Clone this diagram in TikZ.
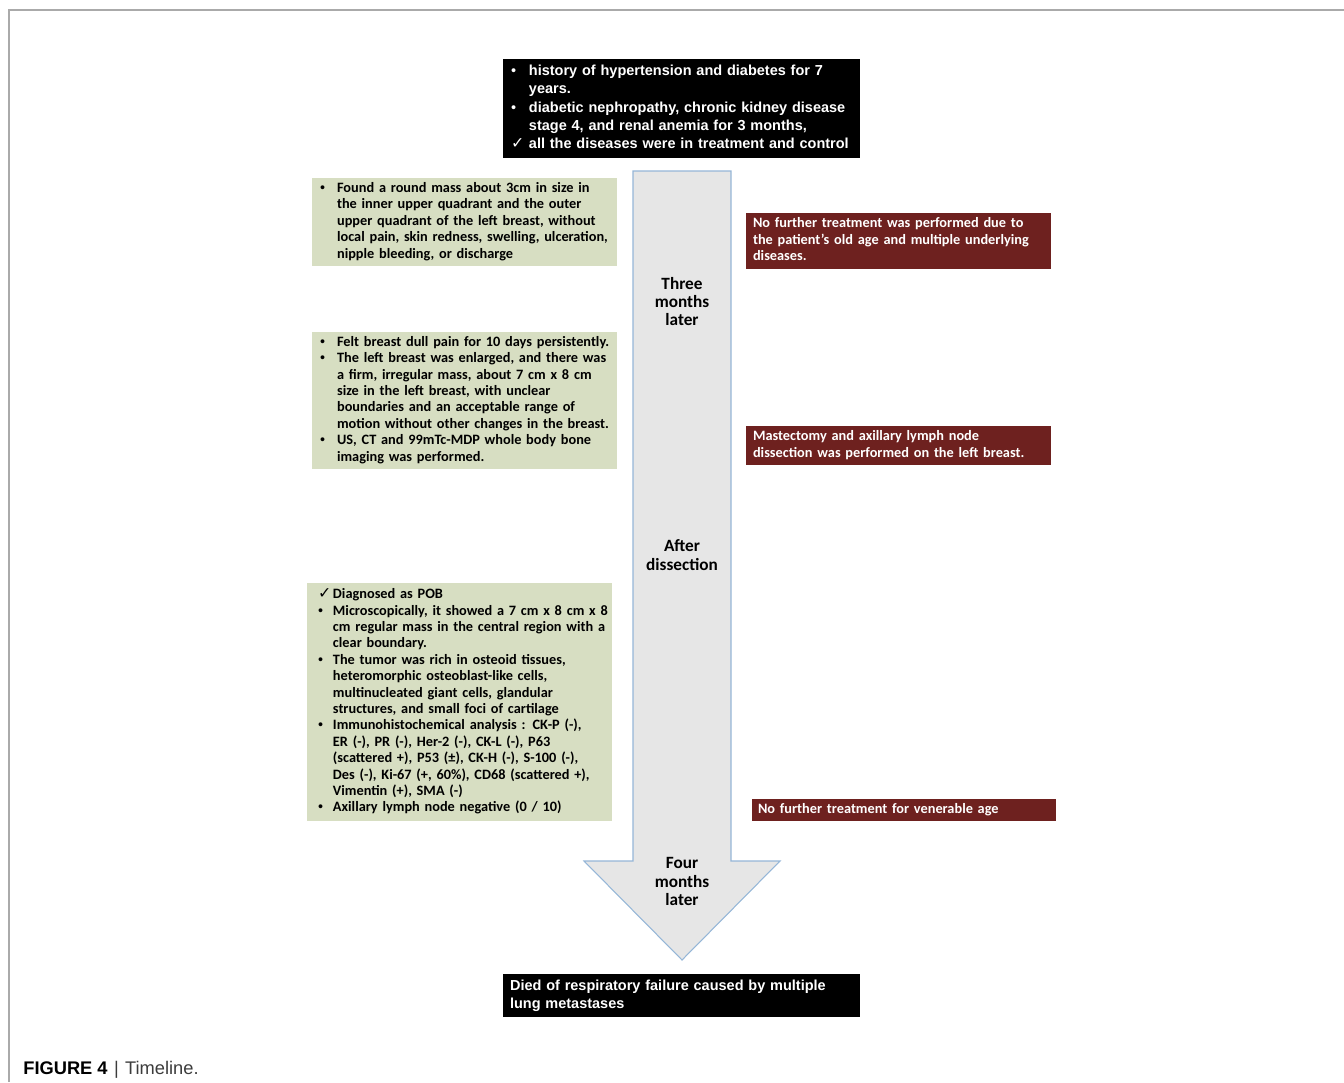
\documentclass[tikz,border=0pt]{standalone}
\usepackage{fontspec}
\setmainfont{Carlito}
\newfontfamily\arialf{Liberation Sans}
\newfontfamily\symf{DejaVu Sans}
\usetikzlibrary{positioning}
\definecolor{tlgreen}{RGB}{215, 222, 194}
\definecolor{tlred}{RGB}{110, 33, 31}
\definecolor{tlshaft}{RGB}{230, 230, 230}
\definecolor{tlblue}{RGB}{149, 182, 215}
\definecolor{tlframe}{RGB}{170, 170, 170}
\definecolor{tlcap}{RGB}{60, 60, 60}
\newlength{\hw}
\newcommand{\bu}{\makebox[\hw][l]{\arialf\mdseries\textbullet}}
\newcommand{\ck}{\makebox[\hw][l]{\symf\small ✓}}

\begin{document}
\begin{tikzpicture}[
  x=0.02cm, y=-0.02cm,
  every node/.style={inner ysep=0pt},
  darkbox/.style={fill=black, text=white, align=left,
                  font=\arialf\bfseries\fontsize{8.25}{10.4}\selectfont},
  greenbox/.style={fill=tlgreen, text=black, align=left,
                   font=\bfseries\fontsize{8.15}{9.33}\selectfont},
  redbox/.style={fill=tlred, text=white, align=left,
                 font=\bfseries\fontsize{8.15}{9.4}\selectfont},
  steplabel/.style={align=center, font=\bfseries\fontsize{9.8}{10.4}\selectfont}
]
  \useasboundingbox (0,0) rectangle (1344,1082);
  \draw[tlframe, line width=0.6pt] (9,1082) -- (9,10) -- (1344,10);

  % timeline arrow
  \draw[fill=tlshaft, draw=tlblue, line width=0.6pt]
    (633,171) -- (731,171) -- (731,861) -- (780,861) -- (682,960)
    -- (584,861) -- (633,861) -- cycle;
  \node[steplabel] (three) at (682,301.5) {Three\\months\\later};
  \node[steplabel] (after) at (682,555) {After\\dissection};
  \node[steplabel] (four) at (682,881.5) {Four\\months\\later};

  % history and outcome
  \node[darkbox, text width=6.82cm, inner xsep=0.16cm, minimum height=1.98cm]
    (hist) at (681.5,108.5) {\setlength{\hw}{10.2pt}%
    \begin{tabular}{@{}l@{}l@{}}
    \bu & history of hypertension and diabetes for 7\\
        & years.\\
    \bu & diabetic nephropathy, chronic kidney disease\\
        & stage 4, and renal anemia for 3 months,\\
    \ck & all the diseases were in treatment and control
    \end{tabular}};
  \node[darkbox, text width=6.86cm, inner xsep=0.14cm, minimum height=0.86cm]
    (died) at (681.5,995.5) {\begin{tabular}{@{}l@{}}
    Died of respiratory failure caused by multiple\\
    lung metastases
    \end{tabular}};

  % findings
  \node[greenbox, text width=5.78cm, inner xsep=0.16cm, minimum height=1.76cm]
    (mass) at (464.5,222) {\setlength{\hw}{9.7pt}%
    \begin{tabular}{@{}l@{}l@{}}
    \bu & Found a round mass about 3cm in size in\\
        & the inner upper quadrant and the outer\\
        & upper quadrant of the left breast, without\\
        & local pain, skin redness, swelling, ulceration,\\
        & nipple bleeding, or discharge
    \end{tabular}};
  \node[greenbox, text width=5.78cm, inner xsep=0.16cm, minimum height=2.74cm]
    (pain) at (464.5,400.5) {\setlength{\hw}{9.7pt}%
    \begin{tabular}{@{}l@{}l@{}}
    \bu & Felt breast dull pain for 10 days persistently.\\
    \bu & The left breast was enlarged, and there was\\
        & a firm, irregular mass, about 7 cm x 8 cm\\
        & size in the left breast, with unclear\\
        & boundaries and an acceptable range of\\
        & motion without other changes in the breast.\\
    \bu & US, CT and 99mTc-MDP whole body bone\\
        & imaging was performed.
    \end{tabular}};
  \node[greenbox, text width=5.66cm, inner xsep=0.22cm, minimum height=4.76cm]
    (diag) at (459.5,702) {\setlength{\hw}{8.5pt}%
    \begin{tabular}{@{}l@{}l@{}}
    \ck & Diagnosed as POB\\
    \bu & Microscopically, it showed a 7 cm x 8 cm x 8\\
        & cm regular mass in the central region with a\\
        & clear boundary.\\
    \bu & The tumor was rich in osteoid tissues,\\
        & heteromorphic osteoblast-like cells,\\
        & multinucleated giant cells, glandular\\
        & structures, and small foci of cartilage\\
    \bu & Immunohistochemical analysis : CK-P (-),\\
        & ER (-), PR (-), Her-2 (-), CK-L (-), P63\\
        & (scattered +), P53 (±), CK-H (-), S-100 (-),\\
        & Des (-), Ki-67 (+, 60\%), CD68 (scattered +),\\
        & Vimentin (+), SMA (-)\\
    \bu & Axillary lymph node negative (0 / 10)
    \end{tabular}};

  % treatment
  \node[redbox, text width=5.82cm, inner xsep=0.14cm, minimum height=1.12cm]
    (nofurther) at (898.5,241) {\begin{tabular}{@{}l@{}}
    No further treatment was performed due to\\
    the patient's old age and multiple underlying\\
    diseases.
    \end{tabular}};
  \node[redbox, text width=5.82cm, inner xsep=0.14cm, minimum height=0.78cm]
    (mastect) at (898.5,445.5) {\begin{tabular}{@{}l@{}}
    Mastectomy and axillary lymph node\\
    dissection was performed on the left breast.
    \end{tabular}};
  \node[redbox, text width=5.84cm, inner xsep=0.12cm, minimum height=0.44cm]
    (venerable) at (904,810) {No further treatment for venerable age};

  \node[anchor=base west, inner sep=0pt, text=black,
        font=\arialf\fontsize{10.4}{12}\selectfont]
    (caption) at (23,1074) {\textbf{FIGURE 4}\hspace{0.35em}\textcolor{tlcap}{|}\hspace{0.35em}\textcolor{tlcap}{Timeline.}};
\end{tikzpicture}
\end{document}
